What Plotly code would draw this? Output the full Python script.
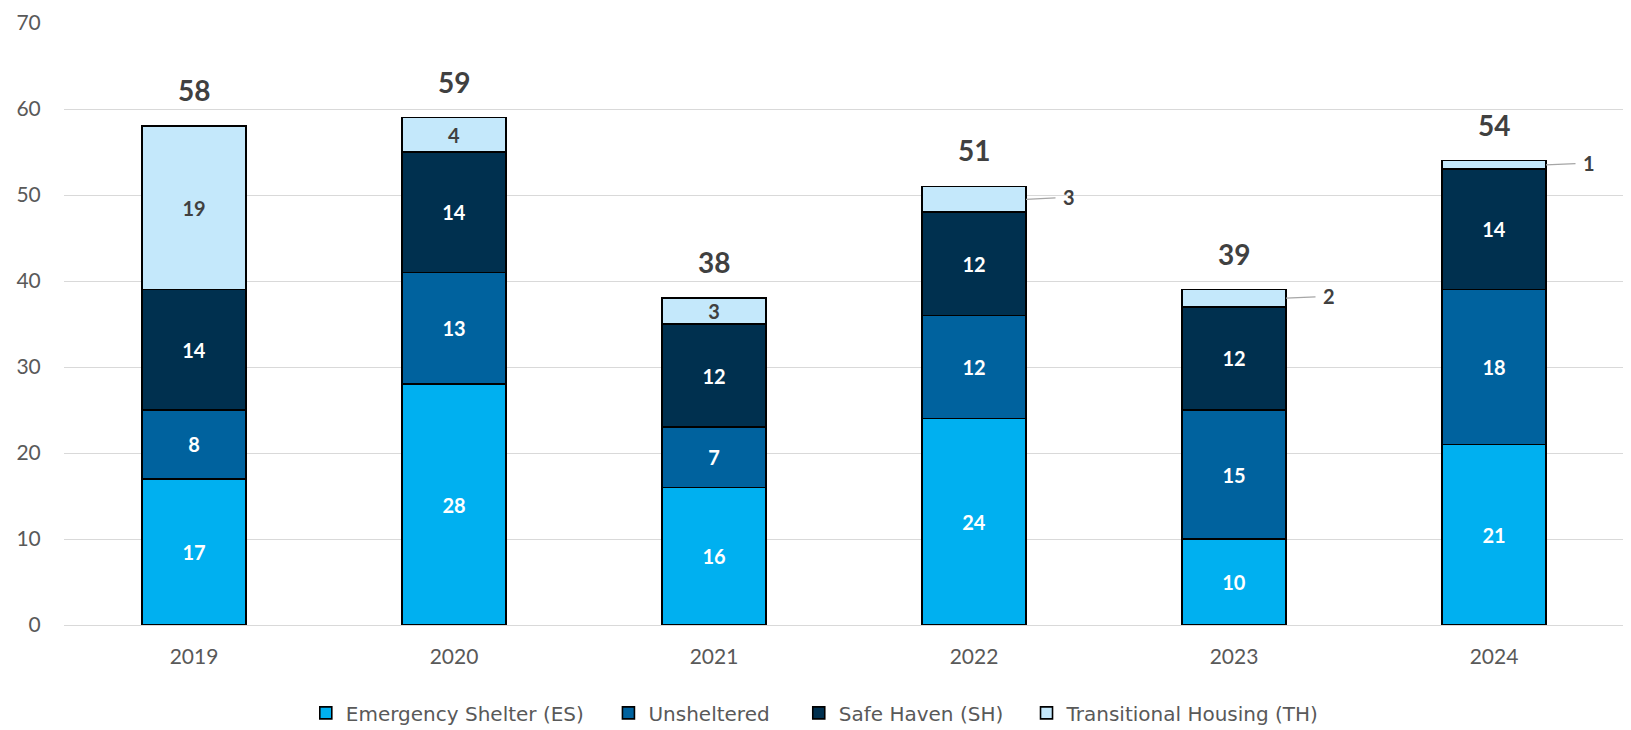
import plotly.graph_objects as go

years = ["2019", "2020", "2021", "2022", "2023", "2024"]
emergency_shelter = [17, 28, 16, 24, 10, 21]
unsheltered = [8, 13, 7, 12, 15, 18]
safe_haven = [14, 14, 12, 12, 12, 14]
transitional = [19, 4, 3, 3, 2, 1]

# small TH segments get their label outside the bar with a leader line
th_outside = [False, False, False, True, True, True]

FONT = "Lato"
GRAY = "#595959"
DARK = "#404040"

x = list(range(len(years)))
totals = [a + b + c + d for a, b, c, d in zip(emergency_shelter, unsheltered, safe_haven, transitional)]

# name, values, colour, label colour, legend id, legend x (paper)
series = [
    ("Emergency Shelter (ES)", emergency_shelter, "#00B0F0", "white", "legend", 0.155),
    ("Unsheltered", unsheltered, "#00629E", "white", "legend2", 0.349),
    ("Safe Haven (SH)", safe_haven, "#00304F", "white", "legend3", 0.471),
    ("Transitional Housing (TH)", transitional, "#C4E8FB", DARK, "legend4", 0.617),
]

fig = go.Figure()

for name, vals, color, txtcolor, leg, _ in series:
    if name.startswith("Transitional"):
        labels = ["" if out else str(v) for v, out in zip(vals, th_outside)]
    else:
        labels = [str(v) for v in vals]
    fig.add_trace(go.Bar(
        x=x,
        y=vals,
        name=name,
        legend=leg,
        showlegend=True,
        width=0.4,
        marker=dict(color=color, line=dict(color="black", width=1.6)),
        text=labels,
        textposition="inside",
        insidetextanchor="middle",
        textangle=0,
        textfont=dict(family=FONT, size=20, color=txtcolor, weight="bold"),
        hoverinfo="skip",
    ))

annotations = []

# totals above each bar
for i, t in enumerate(totals):
    annotations.append(dict(
        x=i, y=t, xref="x", yref="y",
        text=str(t), showarrow=False,
        yanchor="bottom", yshift=17,
        font=dict(family=FONT, size=28, color=DARK, weight="bold"),
    ))

# outside labels for small TH segments
for i, out in enumerate(th_outside):
    if not out:
        continue
    base = emergency_shelter[i] + unsheltered[i] + safe_haven[i]
    annotations.append(dict(
        x=i + 0.2, y=base + transitional[i] / 2, xref="x", yref="y",
        text=str(transitional[i]), showarrow=True,
        arrowhead=0, arrowwidth=1.2, arrowcolor="#A6A6A6",
        ax=43, ay=-2, standoff=0, startstandoff=6,
        font=dict(family=FONT, size=20, color=DARK, weight="bold"),
    ))

layout_legends = {}
for name, vals, color, txtcolor, leg, lx in series:
    layout_legends[leg] = dict(
        orientation="h",
        x=lx, xanchor="left",
        y=-0.146, yanchor="middle",
        font=dict(family="DejaVu Sans", size=20, color=GRAY),
        bgcolor="rgba(0,0,0,0)",
    )

fig.update_layout(
    barmode="stack",
    width=1631,
    height=730,
    showlegend=True,
    margin=dict(l=56, r=15, t=15, b=113, autoexpand=False),
    plot_bgcolor="white",
    paper_bgcolor="white",
    font=dict(family=FONT, color=GRAY),
    annotations=annotations,
    uniformtext=dict(minsize=20, mode="show"),
    xaxis=dict(
        tickvals=x,
        ticktext=years,
        range=[-0.5, len(years) - 0.5],
        showgrid=False,
        showline=True,
        linecolor="#D9D9D9",
        tickfont=dict(family=FONT, size=21, color=GRAY),
        ticks="outside", ticklen=13, tickcolor="rgba(0,0,0,0)",
    ),
    yaxis=dict(
        range=[0, 70],
        dtick=10,
        showgrid=True,
        gridcolor="#D9D9D9",
        gridwidth=1.2,
        zeroline=False,
        tickfont=dict(family=FONT, size=21, color=GRAY),
        ticks="outside", ticklen=18, tickcolor="rgba(0,0,0,0)",
    ),
    **layout_legends,
)

fig.write_html("out.html")
